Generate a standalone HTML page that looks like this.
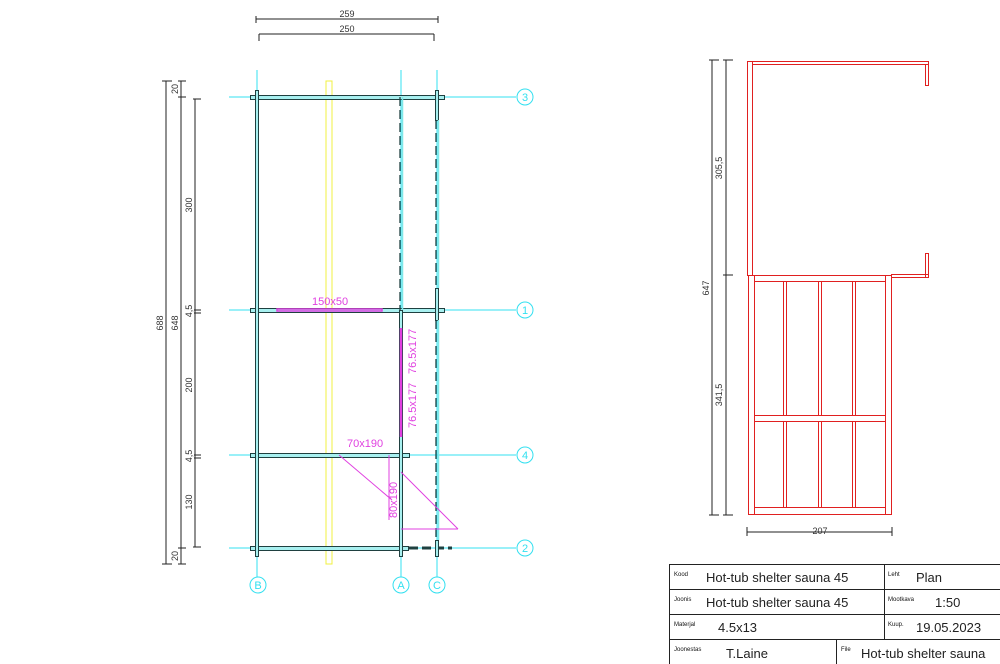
<!DOCTYPE html>
<html><head><meta charset="utf-8"><style>
html,body{margin:0;padding:0;background:#fff;}
svg{display:block;}
text{font-family:"Liberation Sans",sans-serif;}
</style></head><body>
<svg width="1000" height="664" viewBox="0 0 1000 664" xmlns="http://www.w3.org/2000/svg">
<rect width="1000" height="664" fill="#fff"/>
<g stroke="#33e0f0" stroke-width="1" fill="none">
<line x1="229" y1="97" x2="516" y2="97"/>
<line x1="229" y1="310" x2="516" y2="310"/>
<line x1="229" y1="455" x2="516" y2="455"/>
<line x1="229" y1="548" x2="516" y2="548"/>
<line x1="257" y1="70" x2="257" y2="577"/>
<line x1="401" y1="70" x2="401" y2="577"/>
<line x1="437" y1="70" x2="437" y2="577"/>
<circle cx="525" cy="97" r="8"/><circle cx="525" cy="310" r="8"/>
<circle cx="525" cy="455" r="8"/><circle cx="525" cy="548" r="8"/>
<circle cx="258" cy="585" r="8"/><circle cx="401" cy="585" r="8"/><circle cx="437" cy="585" r="8"/>
</g>
<g fill="#33e0f0" font-size="11" text-anchor="middle">
<text x="525" y="101">3</text><text x="525" y="314">1</text><text x="525" y="459">4</text><text x="525" y="552">2</text>
<text x="258" y="589">B</text><text x="401" y="589">A</text><text x="437" y="589">C</text>
</g>
<rect x="326" y="81" width="6" height="483" fill="none" stroke="#f0f040" stroke-width="1"/>
<g fill="#a8f0f0" stroke="#1f4040" stroke-width="1">
<rect x="250.5" y="95.5" width="194" height="4"/>
<rect x="250.5" y="308.5" width="194" height="4"/>
<rect x="250.5" y="453.5" width="159" height="4"/>
<rect x="250.5" y="546.5" width="158" height="4"/>
</g>
<line x1="409" y1="548" x2="452" y2="548" stroke="#1f4040" stroke-width="3" stroke-dasharray="9,4"/>
<g stroke="#1f4040" stroke-width="1" fill="#a8f0f0">
<rect x="255.5" y="90.5" width="3" height="466"/>
<rect x="399.5" y="310.5" width="3" height="246"/>
<rect x="435.5" y="90.5" width="3" height="30"/>
<rect x="435.5" y="288.5" width="3" height="32"/>
<rect x="435.5" y="540.5" width="3" height="16"/>
</g>
<g stroke="#7fe8e8" stroke-width="1.5">
<line x1="402.5" y1="97" x2="402.5" y2="310"/>
<line x1="438.5" y1="120" x2="438.5" y2="288"/>
<line x1="438.5" y1="320" x2="438.5" y2="540"/>
</g>
<g stroke="#1f4040" stroke-width="1.3" stroke-dasharray="9,4">
<line x1="400" y1="97" x2="400" y2="310"/>
<line x1="436" y1="120" x2="436" y2="288"/>
<line x1="436" y1="320" x2="436" y2="540"/>
</g>
<g stroke="#e040e0" stroke-width="1" fill="none">
<rect x="277" y="309" width="105" height="2" stroke-width="1.5"/>
<line x1="401" y1="328" x2="401" y2="437" stroke-width="2.5"/>
<line x1="339" y1="455" x2="392" y2="500"/>
<line x1="389" y1="455" x2="389" y2="520"/>
<line x1="401" y1="472" x2="458" y2="529"/>
<line x1="401" y1="529" x2="458" y2="529"/>
</g>
<g fill="#e040e0" font-size="11">
<text x="312" y="305">150x50</text>
<text x="347" y="447">70x190</text>
<text transform="translate(416,374) rotate(-90)">76.5x177</text>
<text transform="translate(416,428) rotate(-90)">76.5x177</text>
<text transform="translate(397,518) rotate(-90)">80x190</text>
</g>
<g stroke="#222" stroke-width="1" fill="none">
<line x1="256" y1="19" x2="438" y2="19"/><line x1="256" y1="16" x2="256" y2="23"/><line x1="438" y1="16" x2="438" y2="23"/>
<line x1="259" y1="34" x2="434" y2="34"/><line x1="259" y1="34" x2="259" y2="41"/><line x1="434" y1="34" x2="434" y2="41"/>
<line x1="166" y1="81" x2="166" y2="564"/><line x1="162" y1="81" x2="172" y2="81"/><line x1="162" y1="564" x2="172" y2="564"/>
<line x1="181" y1="81" x2="181" y2="564"/><line x1="178" y1="81" x2="186" y2="81"/><line x1="178" y1="97" x2="186" y2="97"/><line x1="178" y1="548" x2="186" y2="548"/><line x1="178" y1="564" x2="186" y2="564"/>
<line x1="195" y1="99" x2="195" y2="547"/><line x1="193" y1="99" x2="201" y2="99"/><line x1="193" y1="547" x2="201" y2="547"/>
<line x1="194" y1="310" x2="201" y2="310"/><line x1="194" y1="313" x2="201" y2="313"/>
<line x1="194" y1="455" x2="201" y2="455"/><line x1="194" y1="458" x2="201" y2="458"/>
</g>
<g fill="#333" font-size="9" text-anchor="middle">
<text x="347" y="17">259</text><text x="347" y="32">250</text>
<text transform="translate(163,323) rotate(-90)">688</text>
<text transform="translate(178,323) rotate(-90)">648</text>
<text transform="translate(178,89) rotate(-90)">20</text>
<text transform="translate(178,556) rotate(-90)">20</text>
<text transform="translate(192,205) rotate(-90)">300</text>
<text transform="translate(192,311) rotate(-90)">4,5</text>
<text transform="translate(192,385) rotate(-90)">200</text>
<text transform="translate(192,456) rotate(-90)">4,5</text>
<text transform="translate(192,502) rotate(-90)">130</text>
</g>
<g stroke="#e02020" stroke-width="1" fill="none">
<rect x="747.5" y="61.5" width="5" height="214"/>
<rect x="752.5" y="61.5" width="176" height="3"/>
<rect x="925.5" y="64.5" width="3" height="21"/>
<rect x="925.5" y="253.5" width="3" height="24"/>
<rect x="891.5" y="274.5" width="37" height="3"/>
<line x1="747" y1="275.5" x2="891" y2="275.5"/>
<rect x="748.5" y="275.5" width="6" height="239"/>
<rect x="885.5" y="275.5" width="6" height="239"/>
<rect x="754.5" y="275.5" width="131" height="6"/>
<rect x="754.5" y="507.5" width="131" height="7"/>
<rect x="754.5" y="415.5" width="131" height="6"/>
<rect x="783.5" y="281.5" width="3" height="134"/><rect x="783.5" y="421.5" width="3" height="86"/>
<rect x="818.5" y="281.5" width="3" height="134"/><rect x="818.5" y="421.5" width="3" height="86"/>
<rect x="852.5" y="281.5" width="3" height="134"/><rect x="852.5" y="421.5" width="3" height="86"/>
</g>
<g stroke="#222" stroke-width="1">
<line x1="712" y1="60" x2="712" y2="515"/><line x1="709" y1="60" x2="719" y2="60"/><line x1="709" y1="515" x2="719" y2="515"/>
<line x1="726" y1="60" x2="726" y2="515"/><line x1="723" y1="60" x2="733" y2="60"/><line x1="723" y1="275" x2="733" y2="275"/><line x1="723" y1="515" x2="733" y2="515"/>
<line x1="747" y1="532" x2="892" y2="532"/><line x1="747" y1="527" x2="747" y2="536"/><line x1="892" y1="527" x2="892" y2="536"/>
</g>
<g fill="#333" font-size="9" text-anchor="middle">
<text transform="translate(722,168) rotate(-90)">305,5</text>
<text transform="translate(722,395) rotate(-90)">341,5</text>
<text transform="translate(709,288) rotate(-90)">647</text>
<text x="820" y="534">207</text>
</g>
<g stroke="#222" stroke-width="1" fill="none">
<rect x="669.5" y="564.5" width="340" height="110"/>
<line x1="669" y1="589.5" x2="1000" y2="589.5"/>
<line x1="669" y1="614.5" x2="1000" y2="614.5"/>
<line x1="669" y1="639.5" x2="1000" y2="639.5"/>
<line x1="884.5" y1="564" x2="884.5" y2="639"/>
<line x1="836.5" y1="639" x2="836.5" y2="664"/>
</g>
<g fill="#111" font-size="6">
<text x="674" y="576">Kood</text><text x="674" y="601">Joonis</text><text x="674" y="626">Materjal</text><text x="674" y="651">Joonestas</text>
<text x="888" y="576">Leht</text><text x="888" y="601">Mootkava</text><text x="888" y="626">Kuup.</text><text x="841" y="651">File</text>
</g>
<g fill="#222" font-size="13">
<text x="706" y="582">Hot-tub shelter sauna 45</text>
<text x="706" y="607">Hot-tub shelter sauna 45</text>
<text x="718" y="632">4.5x13</text>
<text x="726" y="658">T.Laine</text>
<text x="916" y="582">Plan</text>
<text x="935" y="607">1:50</text>
<text x="916" y="632">19.05.2023</text>
<text x="861" y="658">Hot-tub shelter sauna</text>
</g>
</svg>
</body></html>
